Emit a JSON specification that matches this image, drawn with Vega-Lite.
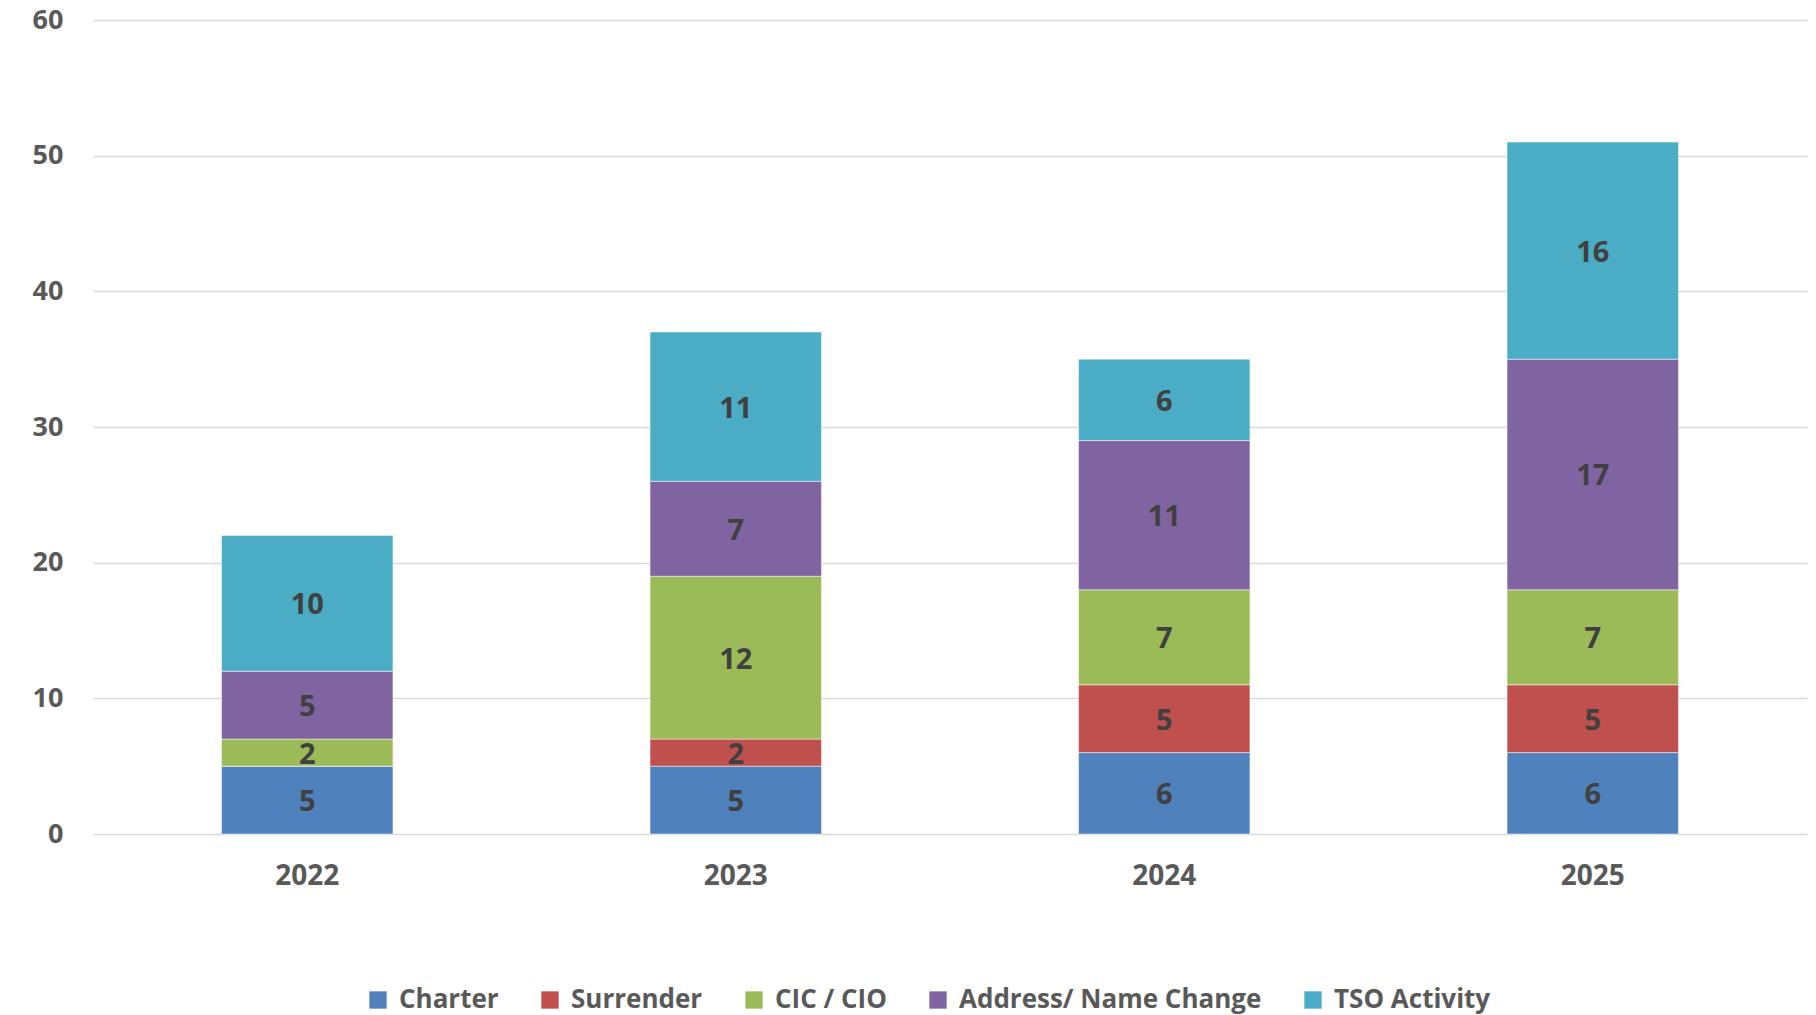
{
  "$schema": "https://vega.github.io/schema/vega-lite/v6.json",
  "width": 1714,
  "height": 814,
  "autosize": {"type": "none"},
  "padding": {"left": 93, "top": 20, "right": 9, "bottom": 181},
  "background": "white",
  "config": {
    "view": {"stroke": null},
    "font": "Open Sans"
  },
  "data": {
    "values": [
      {"year": "2022", "cat": "Charter", "order": 1, "v": 5},
      {"year": "2022", "cat": "Surrender", "order": 2, "v": 0},
      {"year": "2022", "cat": "CIC / CIO", "order": 3, "v": 2},
      {"year": "2022", "cat": "Address/ Name Change", "order": 4, "v": 5},
      {"year": "2022", "cat": "TSO Activity", "order": 5, "v": 10},
      {"year": "2023", "cat": "Charter", "order": 1, "v": 5},
      {"year": "2023", "cat": "Surrender", "order": 2, "v": 2},
      {"year": "2023", "cat": "CIC / CIO", "order": 3, "v": 12},
      {"year": "2023", "cat": "Address/ Name Change", "order": 4, "v": 7},
      {"year": "2023", "cat": "TSO Activity", "order": 5, "v": 11},
      {"year": "2024", "cat": "Charter", "order": 1, "v": 6},
      {"year": "2024", "cat": "Surrender", "order": 2, "v": 5},
      {"year": "2024", "cat": "CIC / CIO", "order": 3, "v": 7},
      {"year": "2024", "cat": "Address/ Name Change", "order": 4, "v": 11},
      {"year": "2024", "cat": "TSO Activity", "order": 5, "v": 6},
      {"year": "2025", "cat": "Charter", "order": 1, "v": 6},
      {"year": "2025", "cat": "Surrender", "order": 2, "v": 5},
      {"year": "2025", "cat": "CIC / CIO", "order": 3, "v": 7},
      {"year": "2025", "cat": "Address/ Name Change", "order": 4, "v": 17},
      {"year": "2025", "cat": "TSO Activity", "order": 5, "v": 16}
    ]
  },
  "transform": [
    {"stack": "v", "groupby": ["year"], "sort": [{"field": "order"}], "as": ["v0", "v1"]},
    {"calculate": "(datum.v0 + datum.v1) / 2", "as": "mid"}
  ],
  "encoding": {
    "x": {
      "field": "year",
      "type": "nominal",
      "scale": {"paddingInner": 0.6, "paddingOuter": 0.3},
      "axis": {
        "title": null,
        "labelAngle": 0,
        "domain": false,
        "ticks": false,
        "labelPadding": 28,
        "labelFontSize": 28,
        "labelFontWeight": "bold",
        "labelColor": "#595959"
      }
    }
  },
  "layer": [
    {
      "mark": {"type": "bar", "stroke": "white", "strokeWidth": 0.8, "strokeOpacity": 0.6},
      "encoding": {
        "y": {
          "field": "v0",
          "type": "quantitative",
          "scale": {"domain": [0, 60]},
          "axis": {
            "title": null,
            "values": [0, 10, 20, 30, 40, 50, 60],
            "domain": false,
            "ticks": false,
            "labelPadding": 30,
            "labelFontSize": 27,
            "labelFontWeight": "bold",
            "labelColor": "#595959",
            "gridColor": "#d9d9d9",
            "gridWidth": 1.5
          }
        },
        "y2": {"field": "v1"},
        "color": {
          "field": "cat",
          "type": "nominal",
          "scale": {
            "domain": ["Charter", "Surrender", "CIC / CIO", "Address/ Name Change", "TSO Activity"],
            "range": ["#4F81BD", "#C0504D", "#9BBB59", "#8064A2", "#4BACC6"]
          },
          "legend": {
            "title": null,
            "orient": "none",
            "direction": "horizontal",
            "legendX": 272,
            "legendY": 967,
            "symbolType": "square",
            "symbolSize": 300,
            "symbolStrokeWidth": 0,
            "symbolOpacity": 1,
            "labelFontSize": 26,
            "labelFontWeight": "bold",
            "labelColor": "#595959",
            "labelOffset": 8,
            "columnPadding": 38,
            "labelLimit": 500
          }
        }
      }
    },
    {
      "transform": [{"filter": "datum.v > 0"}],
      "mark": {"type": "text", "fontSize": 29, "fontWeight": "bold", "color": "#404040", "baseline": "middle", "dy": 2},
      "encoding": {
        "y": {"field": "mid", "type": "quantitative"},
        "text": {"field": "v", "type": "quantitative"}
      }
    }
  ]
}
